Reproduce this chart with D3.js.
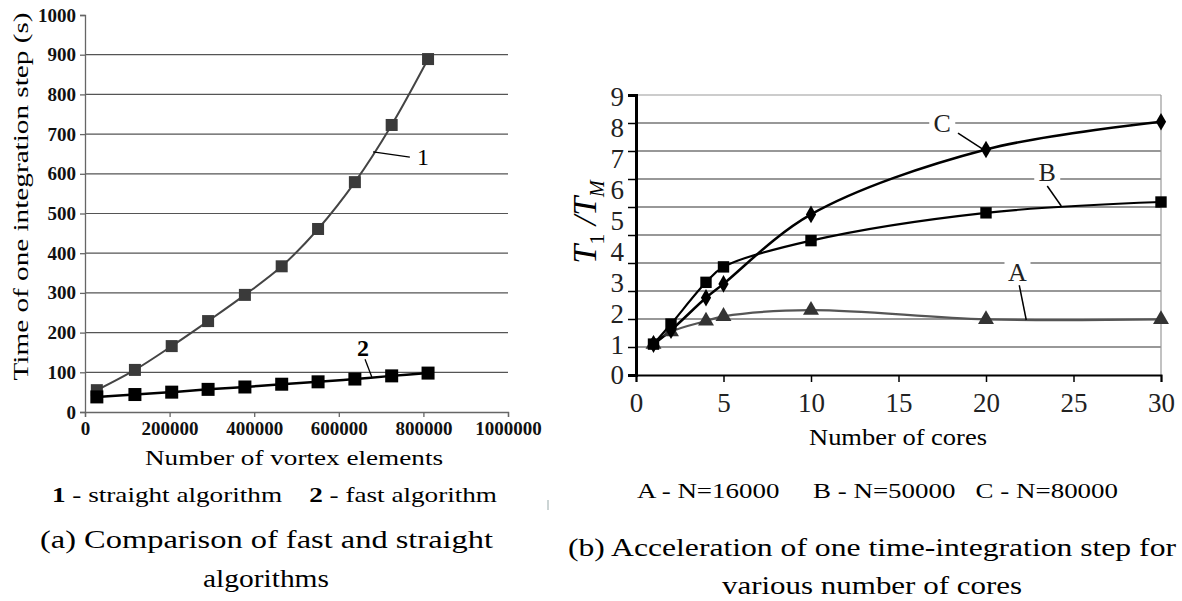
<!DOCTYPE html>
<html>
<head>
<meta charset="utf-8">
<script src="https://cdn.jsdelivr.net/npm/d3@7"></script>
<style>
  body { margin: 0; background: #fff; }
  svg { display: block; }
  svg text { font-family: "Liberation Serif", "DejaVu Serif", serif; white-space: pre; }
</style>
</head>
<body>
<div id="chart-area"></div>
<script>
// (a) fast vs straight
var vortexCount = [28000, 118000, 205000, 291000, 378000, 465000, 551000, 638000, 725000, 811000];
var straightTime = [55, 106, 166, 229, 295, 367, 461, 579, 723, 889];
var fastTime = [38, 44, 50, 57, 63, 70, 76, 83, 91, 98];
var leftYTicks = [0, 100, 200, 300, 400, 500, 600, 700, 800, 900, 1000];
var leftXTicks = [0, 200000, 400000, 600000, 800000, 1000000];

// (b) acceleration
var cores = [1, 2, 4, 5, 10, 20, 30];
var accelA = [1, 1.4, 1.75, 1.9, 2.1, 1.8, 1.8];
var accelB = [1, 1.65, 3.0, 3.5, 4.35, 5.25, 5.6];
var accelC = [1, 1.45, 2.5, 2.95, 5.2, 7.3, 8.2];
var rightYTicks = [0, 1, 2, 3, 4, 5, 6, 7, 8, 9];
var rightXTicks = [0, 5, 10, 15, 20, 25, 30];

var SERIF = '"Liberation Serif", "DejaVu Serif", serif';
var W = 1182, H = 601;
var svg = d3.select('#chart-area').append('svg')
    .attr('width', W)
    .attr('height', H);

// ---------- left chart ----------
var L = {left: 85, right: 508, top: 15, bottom: 412};
var x1 = d3.scaleLinear().domain([0, 1000000]).range([L.left, L.right]);
var y1 = d3.scaleLinear().domain([0, 1000]).range([L.bottom, L.top]);

var gl = svg.append('g');

// gridlines
gl.selectAll('line.grid')
    .data(leftYTicks.filter(function(d){ return d > 0 && d < 1000; }))
    .enter().append('line')
    .attr('x1', L.left).attr('x2', L.right)
    .attr('y1', function(d){ return y1(d); })
    .attr('y2', function(d){ return y1(d); })
    .attr('stroke', '#555').attr('stroke-width', 1.2);

var yAxisL = gl.append('g')
    .attr('transform', 'translate(' + L.left + ',0)')
    .call(d3.axisLeft(y1).tickValues(leftYTicks).tickSize(5).tickPadding(4).tickFormat(d3.format('d')));
var xAxisL = gl.append('g')
    .attr('transform', 'translate(0,' + L.bottom + ')')
    .call(d3.axisBottom(x1).tickValues(leftXTicks).tickSize(5).tickPadding(5).tickFormat(d3.format('d')));
[yAxisL, xAxisL].forEach(function(a){
    a.attr('font-family', SERIF);
    a.select('.domain').attr('stroke', '#666').attr('stroke-width', 1.3);
    a.selectAll('.tick line').attr('stroke', '#666').attr('stroke-width', 1.3);
    a.selectAll('.tick text')
        .attr('font-weight', 'bold')
        .attr('font-size', 19)
        .attr('fill', '#111');
});

var lineL = d3.line()
    .x(function(d){ return x1(d[0]); })
    .y(function(d){ return y1(d[1]); })
    .curve(d3.curveCatmullRom);

var s1 = d3.zip(vortexCount, straightTime);
var s2 = d3.zip(vortexCount, fastTime);

gl.append('path').datum(s1)
    .attr('d', lineL).attr('fill', 'none')
    .attr('stroke', '#444').attr('stroke-width', 2);
gl.append('path').datum(s2)
    .attr('d', lineL).attr('fill', 'none')
    .attr('stroke', '#000').attr('stroke-width', 2.5);

gl.selectAll('rect.s1').data(s1).enter().append('rect')
    .attr('x', function(d){ return x1(d[0]) - 6; })
    .attr('y', function(d){ return y1(d[1]) - 6; })
    .attr('width', 12).attr('height', 12)
    .attr('fill', '#3a3a3a');
gl.selectAll('rect.s2').data(s2).enter().append('rect')
    .attr('x', function(d){ return x1(d[0]) - 6.5; })
    .attr('y', function(d){ return y1(d[1]) - 6.5; })
    .attr('width', 13).attr('height', 13)
    .attr('fill', '#000');

// series labels
gl.append('line')
    .attr('x1', x1(681000)).attr('y1', y1(655))
    .attr('x2', x1(768000)).attr('y2', y1(642))
    .attr('stroke', '#000').attr('stroke-width', 1.3);
gl.append('text')
    .attr('x', x1(799000)).attr('y', y1(642) + 8)
    .attr('text-anchor', 'middle')
    .attr('font-size', 24)
    .text('1');
gl.append('line')
    .attr('x1', x1(662000)).attr('y1', y1(133))
    .attr('x2', x1(678000)).attr('y2', y1(88))
    .attr('stroke', '#000').attr('stroke-width', 1.3);
gl.append('text')
    .attr('x', x1(657000)).attr('y', y1(161) + 8)
    .attr('text-anchor', 'middle')
    .attr('font-size', 24).attr('font-weight', 'bold')
    .text('2');

// axis titles
gl.append('text')
    .attr('transform', 'translate(28,' + ((L.top + L.bottom) / 2 - 17) + ') rotate(-90)')
    .attr('text-anchor', 'middle')
    .attr('font-size', 22)
    .attr('textLength', 368).attr('lengthAdjust', 'spacingAndGlyphs')
    .text('Time of one integration step (s)');
gl.append('text')
    .attr('x', 294).attr('y', 465)
    .attr('text-anchor', 'middle')
    .attr('font-size', 22)
    .attr('textLength', 298).attr('lengthAdjust', 'spacingAndGlyphs')
    .text('Number of vortex elements');

var legL = gl.append('text')
    .attr('x', 52).attr('y', 502)
    .attr('font-size', 22)
    .attr('textLength', 445).attr('lengthAdjust', 'spacingAndGlyphs');
legL.append('tspan').attr('font-weight', 'bold').text('1');
legL.append('tspan').text(' - straight algorithm    ');
legL.append('tspan').attr('font-weight', 'bold').text('2');
legL.append('tspan').text(' - fast algorithm');

gl.append('text')
    .attr('x', 40).attr('y', 548)
    .attr('font-size', 25)
    .attr('textLength', 453).attr('lengthAdjust', 'spacingAndGlyphs')
    .text('(a) Comparison of fast and straight');
gl.append('text')
    .attr('x', 266).attr('y', 587)
    .attr('text-anchor', 'middle')
    .attr('font-size', 25)
    .attr('textLength', 126).attr('lengthAdjust', 'spacingAndGlyphs')
    .text('algorithms');

// small stray mark
gl.append('line')
    .attr('x1', 548).attr('x2', 548).attr('y1', 500).attr('y2', 510)
    .attr('stroke', '#9aa').attr('stroke-width', 1);

// ---------- right chart ----------
var R = {left: 636, right: 1161, top: 97, bottom: 375};
var x2 = d3.scaleLinear().domain([0, 30]).range([R.left, R.right]);
var y2 = d3.scaleLinear().domain([0, 9]).range([R.bottom, R.top]);
// grid spacing in the figure follows a 0..10 scale
var grid2 = d3.scaleLinear().domain([0, 10]).range([R.bottom, 95]);

var gr = svg.append('g');

gr.selectAll('line.grid')
    .data(d3.range(1, 11))
    .enter().append('line')
    .attr('x1', R.left).attr('x2', R.right)
    .attr('y1', function(d){ return grid2(d); })
    .attr('y2', function(d){ return grid2(d); })
    .attr('stroke', function(d){ return d === 10 ? '#999' : '#333'; })
    .attr('stroke-width', 1.2);
// right border
gr.append('line')
    .attr('x1', R.right).attr('x2', R.right)
    .attr('y1', grid2(10)).attr('y2', R.bottom)
    .attr('stroke', '#999').attr('stroke-width', 1.2);

// y axis: ticks on grid, labels on value scale
gr.append('g')
    .attr('transform', 'translate(' + R.left + ',0)')
    .call(d3.axisLeft(grid2).tickValues(d3.range(0, 11)).tickSize(8).tickFormat(''))
    .call(function(g){
        g.select('.domain').attr('stroke', '#000').attr('stroke-width', 3);
        g.selectAll('.tick line').attr('stroke', '#000').attr('stroke-width', 1.5);
    });
gr.selectAll('text.ylab')
    .data(rightYTicks)
    .enter().append('text')
    .attr('x', R.left - 12)
    .attr('y', function(d){ return y2(d); })
    .attr('dy', '0.35em')
    .attr('text-anchor', 'end')
    .attr('font-size', 27)
    .attr('fill', '#222')
    .text(function(d){ return d; });

var xAxisR = gr.append('g')
    .attr('transform', 'translate(0,' + R.bottom + ')')
    .attr('font-family', SERIF)
    .call(d3.axisBottom(x2).tickValues(rightXTicks).tickSize(7).tickPadding(11));
xAxisR.select('.domain').attr('stroke', '#000').attr('stroke-width', 2);
xAxisR.selectAll('.tick line').attr('stroke', '#000').attr('stroke-width', 1.5);
xAxisR.selectAll('.tick text')
    .attr('font-size', 27).attr('fill', '#222');

var lineR = d3.line()
    .x(function(d){ return x2(d[0]); })
    .y(function(d){ return y2(d[1]); })
    .curve(d3.curveCatmullRom);

var sA = d3.zip(cores, accelA);
var sB = d3.zip(cores, accelB);
var sC = d3.zip(cores, accelC);

gr.append('path').datum(sA).attr('d', lineR).attr('fill', 'none')
    .attr('stroke', '#555').attr('stroke-width', 2.2);
gr.append('path').datum(sB).attr('d', lineR).attr('fill', 'none')
    .attr('stroke', '#000').attr('stroke-width', 2.2);
gr.append('path').datum(sC).attr('d', lineR).attr('fill', 'none')
    .attr('stroke', '#000').attr('stroke-width', 2.5);

gr.selectAll('path.mA').data(sA).enter().append('path')
    .attr('transform', function(d){ return 'translate(' + x2(d[0]) + ',' + y2(d[1]) + ')'; })
    .attr('d', d3.symbol().type(d3.symbolTriangle).size(110)())
    .attr('fill', '#333');
gr.selectAll('path.mB').data(sB).enter().append('path')
    .attr('transform', function(d){ return 'translate(' + x2(d[0]) + ',' + y2(d[1]) + ')'; })
    .attr('d', d3.symbol().type(d3.symbolSquare).size(130)())
    .attr('fill', '#000');
gr.selectAll('path.mC').data(sC).enter().append('path')
    .attr('transform', function(d){ return 'translate(' + x2(d[0]) + ',' + y2(d[1]) + ')'; })
    .attr('d', d3.symbol().type(d3.symbolDiamond).size(90)())
    .attr('fill', '#000');

// series callouts
var callouts = [
    {name: 'C', lx: 17.5, ly: 8.15, from: [18.4, 7.83], to: [19.9, 7.28]},
    {name: 'B', lx: 23.5, ly: 6.57, from: [23.5, 6.12], to: [24.3, 5.47]},
    {name: 'A', lx: 21.8, ly: 3.33, from: [21.9, 2.91], to: [22.3, 1.78]}
];
callouts.forEach(function(c){
    gr.append('line')
        .attr('x1', x2(c.from[0])).attr('y1', y2(c.from[1]))
        .attr('x2', x2(c.to[0])).attr('y2', y2(c.to[1]))
        .attr('stroke', '#000').attr('stroke-width', 1.5);
    gr.append('rect')
        .attr('x', x2(c.lx) - 13).attr('y', y2(c.ly) - 13)
        .attr('width', 26).attr('height', 26)
        .attr('fill', '#fff');
    gr.append('text')
        .attr('x', x2(c.lx)).attr('y', y2(c.ly))
        .attr('dy', '0.35em')
        .attr('text-anchor', 'middle')
        .attr('font-size', 26).attr('fill', '#222')
        .text(c.name);
});

// y title T1/TM
var yt = gr.append('text')
    .attr('transform', 'translate(596,222) rotate(-90)')
    .attr('text-anchor', 'middle')
    .attr('font-size', 34)
    .attr('font-style', 'italic');
yt.append('tspan').text('T');
yt.append('tspan').attr('font-size', 22).attr('font-style', 'normal').attr('dy', 8).text('1');
yt.append('tspan').attr('dy', -8).text(' /T');
yt.append('tspan').attr('font-size', 20).attr('dy', 8).text('M');

gr.append('text')
    .attr('x', 898).attr('y', 445)
    .attr('text-anchor', 'middle')
    .attr('font-size', 24)
    .attr('textLength', 178).attr('lengthAdjust', 'spacingAndGlyphs')
    .text('Number of cores');

gr.append('text')
    .attr('x', 637).attr('y', 498)
    .attr('font-size', 22)
    .attr('textLength', 481).attr('lengthAdjust', 'spacingAndGlyphs')
    .text('A - N=16000     B - N=50000   C - N=80000');

gr.append('text')
    .attr('x', 568).attr('y', 556)
    .attr('font-size', 25)
    .attr('textLength', 608).attr('lengthAdjust', 'spacingAndGlyphs')
    .text('(b) Acceleration of one time-integration step for');
gr.append('text')
    .attr('x', 872).attr('y', 594)
    .attr('text-anchor', 'middle')
    .attr('font-size', 25)
    .attr('textLength', 300).attr('lengthAdjust', 'spacingAndGlyphs')
    .text('various number of cores');
</script>
</body>
</html>
